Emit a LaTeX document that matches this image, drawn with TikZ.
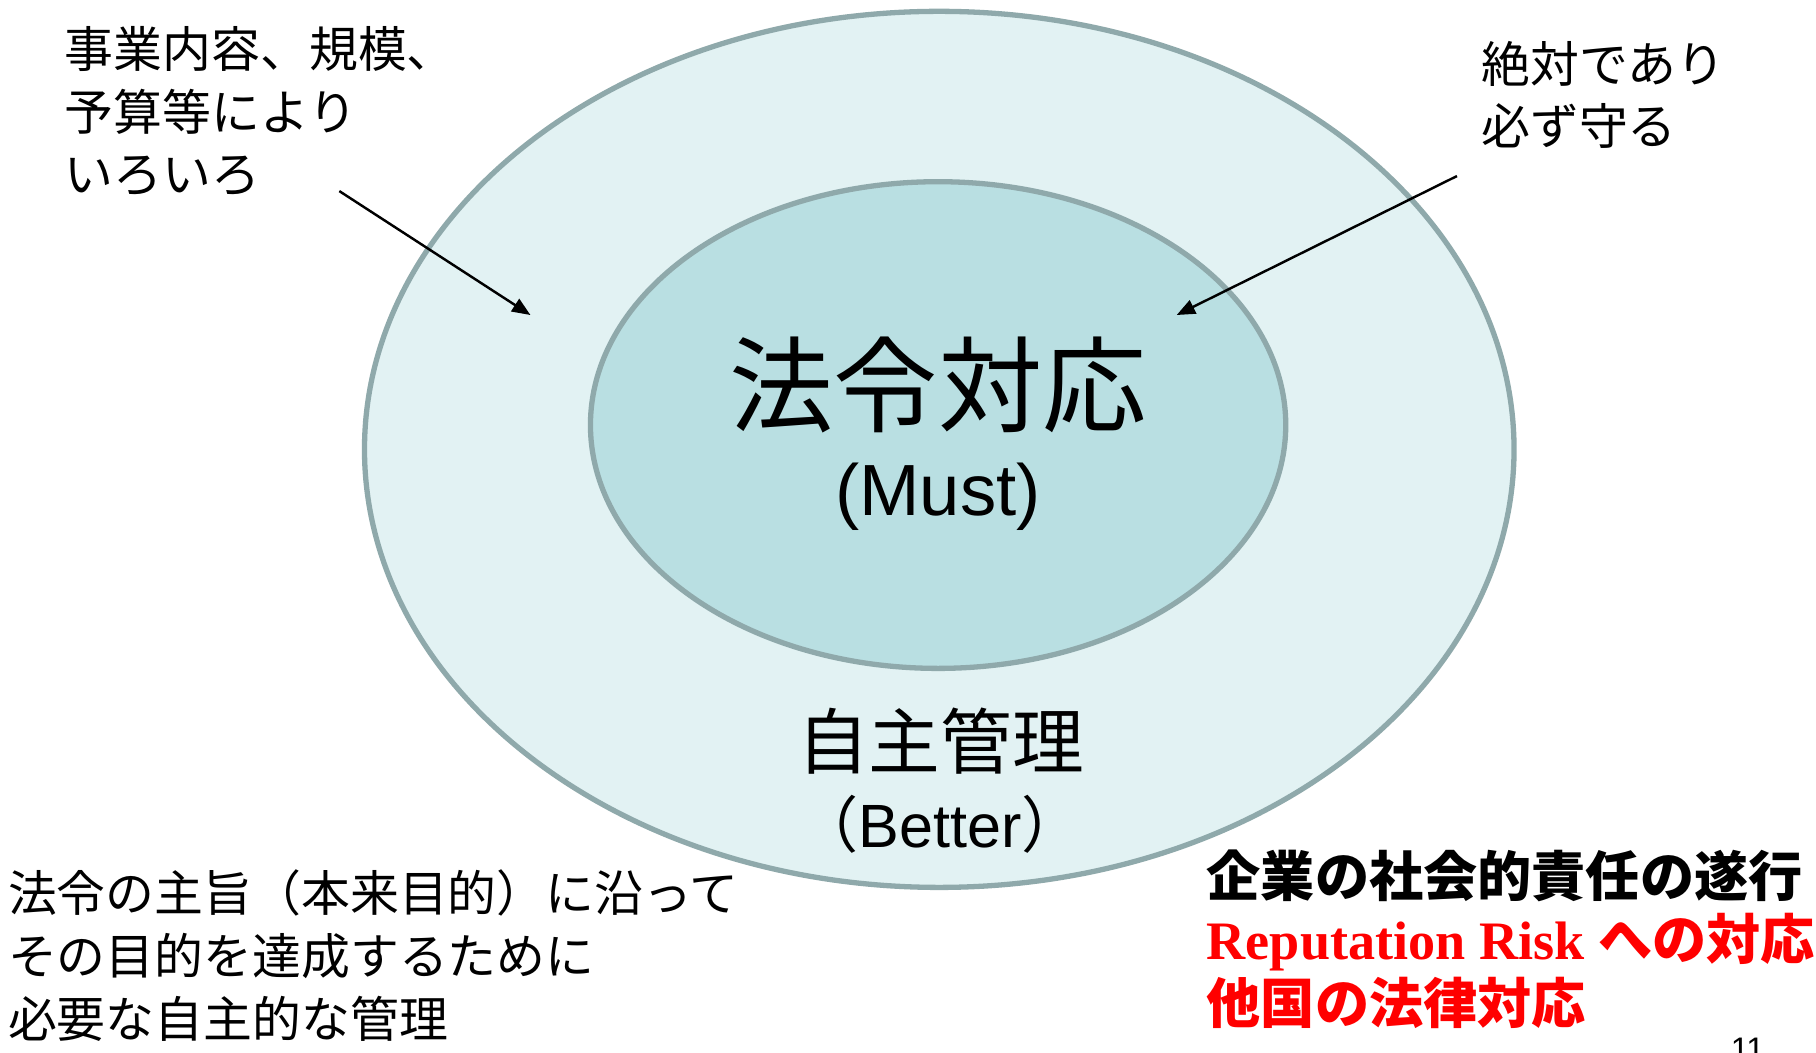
\documentclass[tikz,border=0pt]{standalone}
\usepackage{fontspec}
\setmainfont{Liberation Sans}
\newfontfamily\jpfont{Noto Sans CJK JP}
\newfontfamily\timesfont{Liberation Serif}
\usepackage{xcolor}
\usepackage{tikz}
\usetikzlibrary{arrows.meta,shapes.geometric}
\definecolor{ringFill}{HTML}{E2F2F3}
\definecolor{coreFill}{HTML}{B9DFE2}
\definecolor{ringLine}{HTML}{8FA9AB}
\tikzset{
ring/.style = {ellipse, draw=ringLine, line width=1.3pt,
               inner sep=0pt, outer sep=0pt},
note/.style = {inner sep=0pt, outer sep=0pt, align=left,
               font=\jpfont\fontsize{12}{15.4}\selectfont},
boldnote/.style = {inner sep=0pt, outer sep=0pt, align=left,
               font=\jpfont\bfseries\fontsize{13.3}{15.6}\selectfont},
pointer/.style = {-{Triangle[length=4.5pt,width=3.6pt]}, line width=0.6pt}
}

\begin{document}
\begin{tikzpicture}[x=0.01cm,y=-0.01cm]
    \path[use as bounding box] (0,0) rectangle (1568,909);
    \clip (0,0) rectangle (1568,909);

    \node[ring, fill=ringFill, minimum width=9.92cm, minimum height=7.56cm] (outerRing) at (811,388) {};
    \node[ring, fill=coreFill, minimum width=6cm, minimum height=4.2cm] (innerRing) at (810,367) {};

    \node[inner sep=0pt, font=\jpfont\fontsize{25.6}{30}\selectfont] (lawTitle) at (810,332) {法令対応};
    \node[inner sep=0pt, font=\fontsize{17.8}{20}\selectfont] (mustLabel) at (810,429) {(Must)};
    \node[inner sep=0pt, font=\jpfont\fontsize{17.6}{21}\selectfont] (selfTitle) at (812,640) {自主管理};
    \node[inner sep=0pt, font=\fontsize{15}{18}\selectfont] (betterLabel) at (812,712) {{\jpfont （}Better{\jpfont ）}};

    \node[note, anchor=west] (scopeNote) at (56,96) {事業内容、規模、\\予算等により\\いろいろ};
    \node[note, anchor=west] (mustNote) at (1279,82) {絶対であり\\必ず守る};
    \node[note, anchor=west] (purposeNote) at (7,825) {法令の主旨（本来目的）に沿って\\その目的を達成するために\\必要な自主的な管理};
    \node[boldnote, anchor=west] (dutyNote) at (1042,811) {企業の社会的責任の遂行\\
        \textcolor{red}{{\timesfont Reputation Risk }への対応}\\
        \textcolor{red}{他国の法律対応}};
    \node[inner sep=0pt, anchor=base, font=\fontsize{8}{9}\selectfont] (pageNum) at (1509,916) {11};

    \coordinate (scopeTail) at (293,165);
    \coordinate (scopeHead) at (458,272);
    \coordinate (mustTail) at (1258,152);
    \coordinate (mustHead) at (1016,272);
    \draw[pointer] (scopeTail) -- (scopeHead);
    \draw[pointer] (mustTail) -- (mustHead);
\end{tikzpicture}
\end{document}
